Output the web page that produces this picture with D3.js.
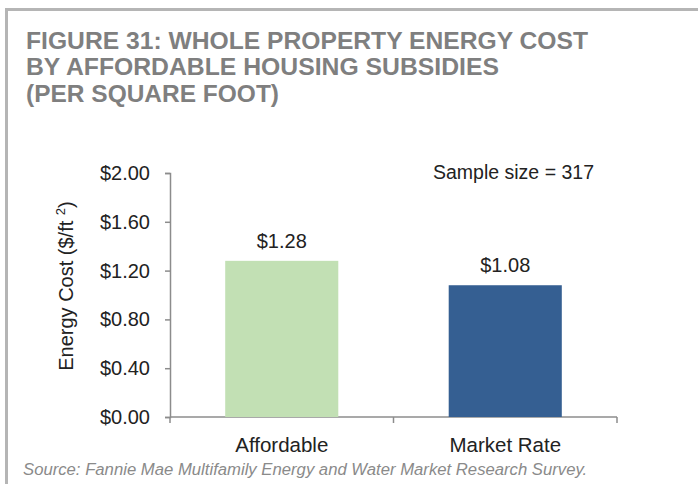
<!DOCTYPE html>
<html>
<head>
<meta charset="utf-8">
<script src="https://cdn.jsdelivr.net/npm/d3@7"></script>
<style>
  body { margin: 0; background: #fff; }
  svg { display: block; }
  text { font-family: "Liberation Sans", Arial, sans-serif; }
</style>
</head>
<body>
<svg width="698" height="484"></svg>
<script>
const categories = ["Affordable", "Market Rate"];
const values = [1.28, 1.08];
const barColors = ["#c2e0b4", "#355f92"];
const yTicks = [0, 0.4, 0.8, 1.2, 1.6, 2.0];
const titleLines = ["FIGURE 31:  WHOLE PROPERTY ENERGY COST", "BY AFFORDABLE HOUSING SUBSIDIES", "(PER SQUARE FOOT)"];
const titleWidths = [562, 473, 253];

const svg = d3.select("svg");

// frame
svg.append("line").attr("x1", 6.5).attr("x2", 6.5).attr("y1", 8).attr("y2", 484)
  .attr("stroke", "#b5b5b5").attr("stroke-width", 3);
svg.append("line").attr("x1", 5).attr("x2", 698).attr("y1", 9.5).attr("y2", 9.5)
  .attr("stroke", "#b5b5b5").attr("stroke-width", 3);

// title
svg.append("g").selectAll("text")
  .data(titleLines)
  .join("text")
  .attr("x", 26)
  .attr("y", (d, i) => 48.5 + i * 26.7)
  .attr("textLength", (d, i) => titleWidths[i])
  .attr("lengthAdjust", "spacingAndGlyphs")
  .style("font-family", "'Liberation Sans Narrow', 'Liberation Sans', sans-serif")
  .style("font-weight", "bold")
  .style("font-size", "24.5px")
  .attr("fill", "#7f7f7f")
  .text(d => d);

const y = d3.scaleLinear().domain([0, 2]).range([417, 173]);
const x = d3.scaleBand().domain(categories).range([170, 617])
  .paddingInner(0.494).paddingOuter(0.247);

// y axis
const yAxis = svg.append("g")
  .attr("transform", "translate(170,0)")
  .call(d3.axisLeft(y).tickValues(yTicks).tickSize(5).tickPadding(15)
    .tickFormat(d => "$" + d.toFixed(2)));
yAxis.select(".domain").attr("stroke", "#8c8c8c").attr("stroke-width", 1.5);
yAxis.selectAll(".tick line").attr("stroke", "#8c8c8c").attr("stroke-width", 1.5);
yAxis.selectAll(".tick text")
  .style("font-family", "'Liberation Sans', Arial, sans-serif")
  .style("font-size", "20px").attr("fill", "#222");

// x axis line with ticks at category boundaries
const bounds = [x.range()[0]].concat(categories.map(c => x(c) + x.bandwidth() + x.step() * x.paddingInner() / 2));
svg.append("line").attr("x1", 170).attr("x2", x.range()[1]).attr("y1", y(0)).attr("y2", y(0))
  .attr("stroke", "#8c8c8c").attr("stroke-width", 1.5);
svg.append("g").selectAll("line")
  .data(bounds)
  .join("line")
  .attr("x1", d => d).attr("x2", d => d)
  .attr("y1", y(0)).attr("y2", y(0) + 6)
  .attr("stroke", "#8c8c8c").attr("stroke-width", 1.5);

// bars
svg.append("g").selectAll("rect")
  .data(values)
  .join("rect")
  .attr("x", (d, i) => x(categories[i]))
  .attr("width", x.bandwidth())
  .attr("y", d => y(d))
  .attr("height", d => y(0) - y(d))
  .attr("fill", (d, i) => barColors[i]);

// value labels
svg.append("g").selectAll("text")
  .data(values)
  .join("text")
  .attr("x", (d, i) => x(categories[i]) + x.bandwidth() / 2)
  .attr("y", d => y(d) - 13)
  .attr("text-anchor", "middle")
  .style("font-size", "20px")
  .attr("fill", "#222")
  .text(d => "$" + d.toFixed(2));

// category labels
svg.append("g").selectAll("text")
  .data(categories)
  .join("text")
  .attr("x", d => x(d) + x.bandwidth() / 2)
  .attr("y", 452)
  .attr("text-anchor", "middle")
  .style("font-size", "20.5px")
  .attr("fill", "#222")
  .text(d => d);

// y axis title
const yt = svg.append("text")
  .attr("transform", "translate(73,286) rotate(-90)")
  .attr("text-anchor", "middle")
  .style("font-size", "20px")
  .attr("fill", "#222");
yt.append("tspan").text("Energy Cost ($/ft ");
yt.append("tspan").attr("dy", -8).style("font-size", "13px").text("2");
yt.append("tspan").attr("dy", 8).text(")");

// sample size
svg.append("text")
  .attr("x", 433).attr("y", 179)
  .style("font-size", "19.5px")
  .attr("fill", "#222")
  .text("Sample size = 317");

// source
svg.append("text")
  .attr("x", 23).attr("y", 475)
  .style("font-size", "16.7px")
  .style("font-style", "italic")
  .attr("fill", "#8a8a8a")
  .text("Source: Fannie Mae Multifamily Energy and Water Market Research Survey.");
</script>
</body>
</html>
